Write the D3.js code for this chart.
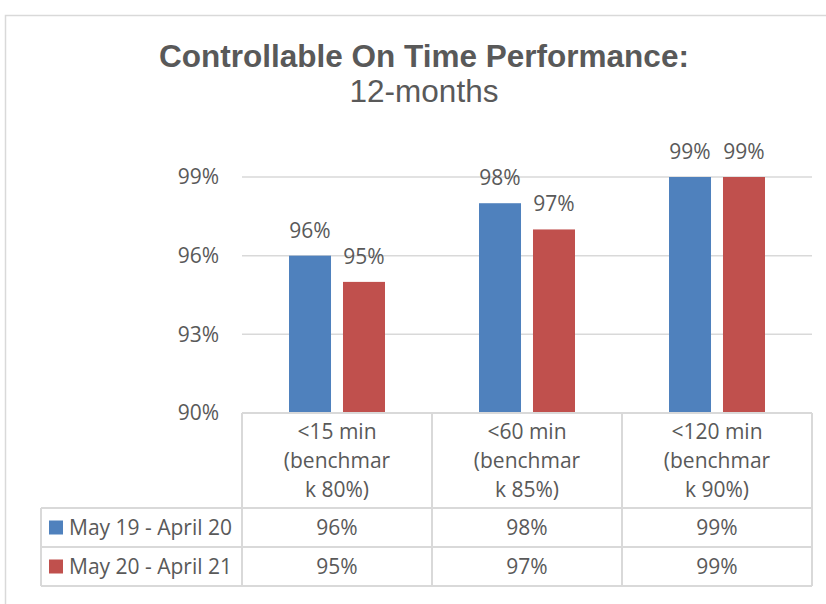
<!DOCTYPE html>
<html>
<head>
<meta charset="utf-8">
<script src="https://cdn.jsdelivr.net/npm/d3@7"></script>
<style>
  html, body { margin: 0; padding: 0; background: #ffffff; }
  svg { display: block; }
</style>
</head>
<body>
<div id="chart"></div>
<script>
// ---- data ----
const categories = ["<15 min (benchmark 80%)", "<60 min (benchmark 85%)", "<120 min (benchmark 90%)"];
const categoryLines = [["<15 min", "(benchmar", "k 80%)"], ["<60 min", "(benchmar", "k 85%)"], ["<120 min", "(benchmar", "k 90%)"]];
const seriesNames = ["May 19 - April 20", "May 20 - April 21"];
const seriesA = [96, 98, 99];
const seriesB = [95, 97, 99];
const yTicks = [90, 93, 96, 99];
const titleText = "Controllable On Time Performance:";
const subtitleText = "12-months";

const seriesValues = [seriesA, seriesB];
const colors = ["#4F81BD", "#C0504D"];
const textColor = "#595959";
const lineColor = "#D9D9D9";
const bodyFont = "'Open Sans', 'Noto Sans', sans-serif";
const titleFont = "'Liberation Sans', Arial, sans-serif";
const fs = 21;

const W = 826, H = 604;
const svg = d3.select("#chart").append("svg").attr("width", W).attr("height", H);

// outer chart border
svg.append("rect").attr("x", 5.5).attr("y", 15.5).attr("width", W + 20).attr("height", H + 20)
  .attr("fill", "none").attr("stroke", lineColor).attr("stroke-width", 1.5);

// title
svg.append("text").attr("x", 424).attr("y", 67).attr("text-anchor", "middle")
  .attr("font-family", titleFont).attr("font-weight", "bold").attr("font-size", 31.5)
  .attr("fill", textColor).text(titleText);
svg.append("text").attr("x", 424).attr("y", 102).attr("text-anchor", "middle")
  .attr("font-family", titleFont).attr("font-size", 31.5)
  .attr("fill", textColor).text(subtitleText);

// scales
const plotLeft = 242, plotRight = 812, plotTop = 177, plotBottom = 413;
const x0 = d3.scaleBand().domain(categories).range([plotLeft, plotRight]).padding(0);
const x1 = d3.scaleBand().domain(seriesNames).range([47, 143]).paddingInner(0.222).paddingOuter(0);
const y = d3.scaleLinear().domain([90, 99]).range([plotBottom, plotTop]);

// gridlines
svg.append("g").selectAll("line").data(yTicks.filter(t => t !== 90)).join("line")
  .attr("x1", plotLeft).attr("x2", plotRight)
  .attr("y1", d => y(d)).attr("y2", d => y(d))
  .attr("stroke", lineColor).attr("stroke-width", 1.5);

// y axis labels
const yAxis = d3.axisLeft(y).tickValues(yTicks).tickFormat(d => d + "%").tickSize(0).tickPadding(23);
const gy = svg.append("g").attr("transform", `translate(${plotLeft},0)`).call(yAxis);
gy.select(".domain").remove();
gy.selectAll("text").attr("font-family", bodyFont).attr("font-size", fs).attr("fill", textColor);

// bars
const groups = svg.append("g").selectAll("g").data(categories).join("g")
  .attr("transform", d => `translate(${x0(d)},0)`);
groups.selectAll("rect").data((c, i) => seriesNames.map((s, j) => ({ s, j, v: seriesValues[j][i] }))).join("rect")
  .attr("x", d => x1(d.s)).attr("width", x1.bandwidth())
  .attr("y", d => y(d.v)).attr("height", d => y(90) - y(d.v))
  .attr("fill", d => colors[d.j]);
groups.selectAll("text.lbl").data((c, i) => seriesNames.map((s, j) => ({ s, j, v: seriesValues[j][i] }))).join("text")
  .attr("class", "lbl")
  .attr("x", d => x1(d.s) + x1.bandwidth() / 2)
  .attr("y", d => y(d.v) - 18)
  .attr("text-anchor", "middle")
  .attr("font-family", bodyFont).attr("font-size", fs).attr("fill", textColor)
  .text(d => d.v + "%");

// data table
const tableLeft = 41;
const headerBottom = 508, rowH = 39;
const tg = svg.append("g").attr("stroke", lineColor).attr("stroke-width", 2).attr("fill", "none");
tg.append("line").attr("x1", plotLeft).attr("x2", plotRight).attr("y1", plotBottom).attr("y2", plotBottom);
[0, 1, 2].forEach(k => {
  const yy = headerBottom + k * rowH;
  tg.append("line").attr("x1", tableLeft).attr("x2", plotRight).attr("y1", yy).attr("y2", yy);
});
categories.forEach(c => {
  tg.append("line").attr("x1", x0(c)).attr("x2", x0(c)).attr("y1", plotBottom).attr("y2", headerBottom + 2 * rowH);
});
tg.append("line").attr("x1", plotRight).attr("x2", plotRight).attr("y1", plotBottom).attr("y2", headerBottom + 2 * rowH);
tg.append("line").attr("x1", tableLeft).attr("x2", tableLeft).attr("y1", headerBottom).attr("y2", headerBottom + 2 * rowH);

// header category labels
categories.forEach((c, i) => {
  const t = svg.append("text").attr("text-anchor", "middle")
    .attr("font-family", bodyFont).attr("font-size", fs).attr("fill", textColor);
  categoryLines[i].forEach((ln, k) => {
    t.append("tspan").attr("x", x0(c) + x0.bandwidth() / 2).attr("y", 439 + k * 29).text(ln);
  });
});

// rows
seriesNames.forEach((s, j) => {
  const cy = headerBottom + j * rowH + rowH / 2;
  svg.append("rect").attr("x", 49).attr("y", cy - 7).attr("width", 14).attr("height", 14).attr("fill", colors[j]);
  svg.append("text").attr("x", 69).attr("y", cy).attr("dy", "0.35em")
    .attr("font-family", bodyFont).attr("font-size", fs).attr("fill", textColor).text(s);
  categories.forEach((c, i) => {
    svg.append("text").attr("x", x0(c) + x0.bandwidth() / 2).attr("y", cy).attr("dy", "0.35em")
      .attr("text-anchor", "middle")
      .attr("font-family", bodyFont).attr("font-size", fs).attr("fill", textColor)
      .text(seriesValues[j][i] + "%");
  });
});
</script>
</body>
</html>
